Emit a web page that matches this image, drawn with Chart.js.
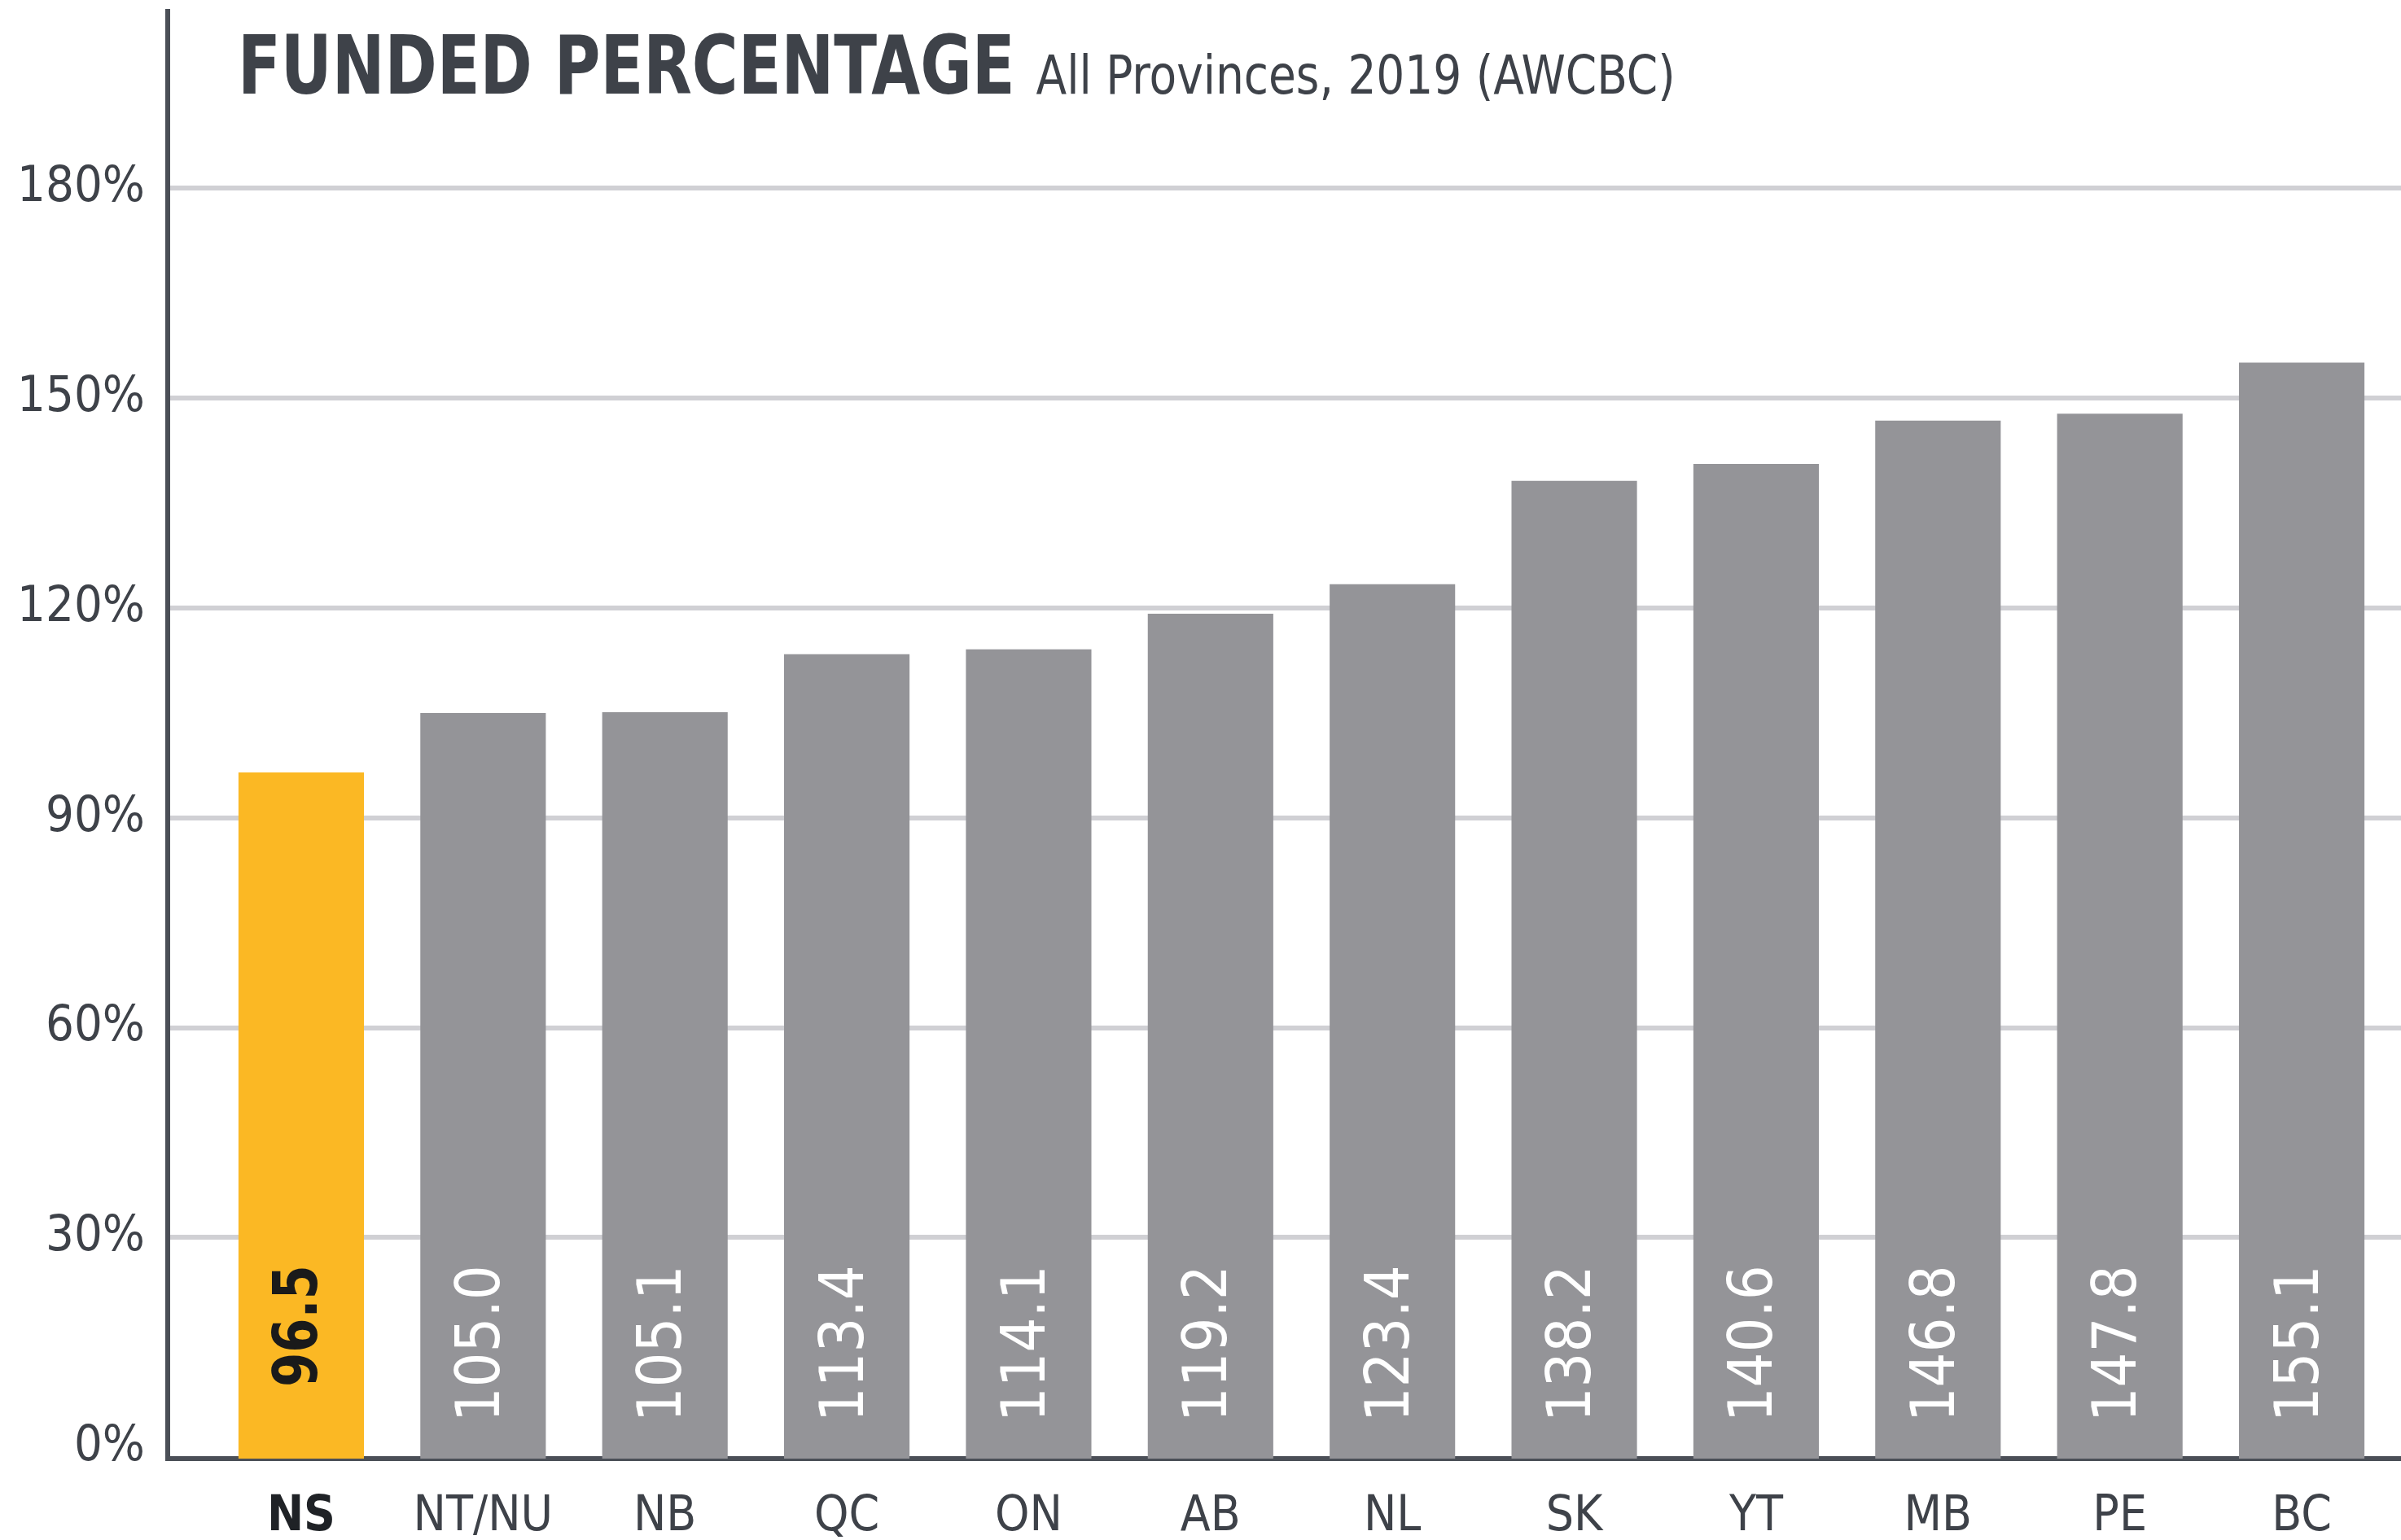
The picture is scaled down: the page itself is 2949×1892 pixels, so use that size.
<!DOCTYPE html>
<html>
<head>
<meta charset="utf-8">
<title>Funded percentage</title>
<script src="https://cdn.jsdelivr.net/npm/chart.js@4/dist/chart.umd.min.js"></script>
<style>
    html, body { margin: 0; padding: 0; background: #ffffff; }
    #wrap { width: 2949px; height: 1892px; position: relative; }
</style>
</head>
<body>
<div id="wrap"><canvas id="fundedChart"></canvas></div>
<script>
const provinces = ['NS', 'NT/NU', 'NB', 'QC', 'ON', 'AB', 'NL', 'SK', 'YT', 'MB', 'PE', 'BC'];
const funded = [96.5, 105.0, 105.1, 113.4, 114.1, 119.2, 123.4, 138.2, 140.6, 146.8, 147.8, 155.1];
const yTicks = [0, 30, 60, 90, 120, 150, 180];

const titre = 'FUNDED PERCENTAGE';
const sousTitre = 'All Provinces, 2019 (AWCBC)';

const FONT = "'DejaVu Sans Condensed', 'Liberation Sans Narrow', sans-serif";
const JAUNE = '#fbb824';
const GRIS = '#949498';
const TEXTE = '#3e4249';
const Y_MIN = -1.6;   // l'axe horizontal est posé un peu sous le 0%

// texte un peu resserré horizontalement (police condensée de l'original)
function texteSerre(ctx, txt, x, y, sx) {
    ctx.save();
    ctx.translate(x, y);
    ctx.scale(sx, 1);
    ctx.fillText(txt, 0, 0);
    ctx.restore();
    return ctx.measureText(txt).width * sx;
}

// titre dessiné dans la zone du graphique, au-dessus de la ligne 180%
const titrePlugin = {
    id: 'titre',
    afterDraw(chart) {
        const { ctx, chartArea } = chart;
        const x = chartArea.left + 86;
        const y = chartArea.top + 101;
        ctx.save();
        ctx.fillStyle = TEXTE;
        ctx.textBaseline = 'alphabetic';
        ctx.textAlign = 'left';
        ctx.font = 'bold 100px ' + FONT;
        const w = texteSerre(ctx, titre, x, y, 0.86);
        ctx.font = '65px ' + FONT;
        texteSerre(ctx, sousTitre, x + w + 26, y, 0.94);
        ctx.restore();
    }
};

// valeurs écrites à la verticale dans chaque barre
const valeursPlugin = {
    id: 'valeurs',
    afterDatasetsDraw(chart) {
        const { ctx } = chart;
        const zero = chart.scales.y.getPixelForValue(0);
        chart.getDatasetMeta(0).data.forEach((bar, i) => {
            ctx.save();
            ctx.translate(bar.x, zero - 224);
            ctx.rotate(-Math.PI / 2);
            ctx.textAlign = 'right';
            ctx.textBaseline = 'middle';
            if (i === 0) {
                ctx.font = 'bold 75px ' + FONT;
                ctx.fillStyle = '#1a1a1a';
                ctx.scale(0.9, 1);
            } else {
                ctx.font = '75px ' + FONT;
                ctx.fillStyle = '#ffffff';
            }
            ctx.fillText(funded[i].toFixed(1), 0, 0);
            ctx.restore();
        });
    }
};

function afficherFundedChart() {
    const ctx = document.getElementById('fundedChart').getContext('2d');

    new Chart(ctx, {
        type: 'bar',
        data: {
            datasets: [{
                label: 'Funded %',
                data: funded.map((v, i) => ({ x: i, y: v })),
                backgroundColor: funded.map((v, i) => i === 0 ? JAUNE : GRIS),
                base: Y_MIN,
                categoryPercentage: 1,
                barPercentage: 0.69
            }]
        },
        plugins: [titrePlugin, valeursPlugin],
        options: {
            responsive: true,
            maintainAspectRatio: false,
            animation: false,
            devicePixelRatio: 1,
            layout: { padding: { top: 14, right: 0, left: 0, bottom: 0 } },
            plugins: {
                legend: { display: false },
                tooltip: { enabled: false }
            },
            scales: {
                x: {
                    type: 'linear',
                    offset: false,
                    min: -0.734,
                    max: 11.546,
                    afterBuildTicks: (scale) => {
                        scale.ticks = provinces.map((p, i) => ({ value: i }));
                    },
                    afterFit: (scale) => { scale.height = 100; },
                    grid: { display: false, drawTicks: false },
                    border: { color: '#4b4f57', width: 6 },
                    ticks: {
                        autoSkip: false,
                        maxRotation: 0,
                        padding: 36,
                        color: (c) => c.tick && c.tick.value === 0 ? '#1f2226' : TEXTE,
                        callback: (v) => provinces[v],
                        font: (c) => ({
                            family: FONT,
                            size: 60,
                            weight: c.tick && c.tick.value === 0 ? 'bold' : 'normal'
                        })
                    }
                },
                y: {
                    min: Y_MIN,
                    max: 205.3,
                    afterBuildTicks: (scale) => {
                        scale.ticks = yTicks.map(v => ({ value: v }));
                    },
                    afterFit: (scale) => { scale.width = 206; },
                    grid: {
                        color: (c) => c.tick && c.tick.value === 0 ? 'rgba(0,0,0,0)' : '#d0d0d4',
                        lineWidth: 6,
                        drawTicks: true,
                        tickLength: 28,
                        tickColor: 'rgba(0,0,0,0)'
                    },
                    border: { color: '#4b4f57', width: 6 },
                    ticks: {
                        padding: 0,
                        color: TEXTE,
                        // lineHeight réduit : évite la marge haute ajoutée pour le dernier libellé
                        font: { family: FONT, size: 61, lineHeight: 0.2 },
                        callback: (v) => v + '%'
                    }
                }
            }
        }
    });
}

document.addEventListener('DOMContentLoaded', () => {
    afficherFundedChart();
});
</script>
</body>
</html>
